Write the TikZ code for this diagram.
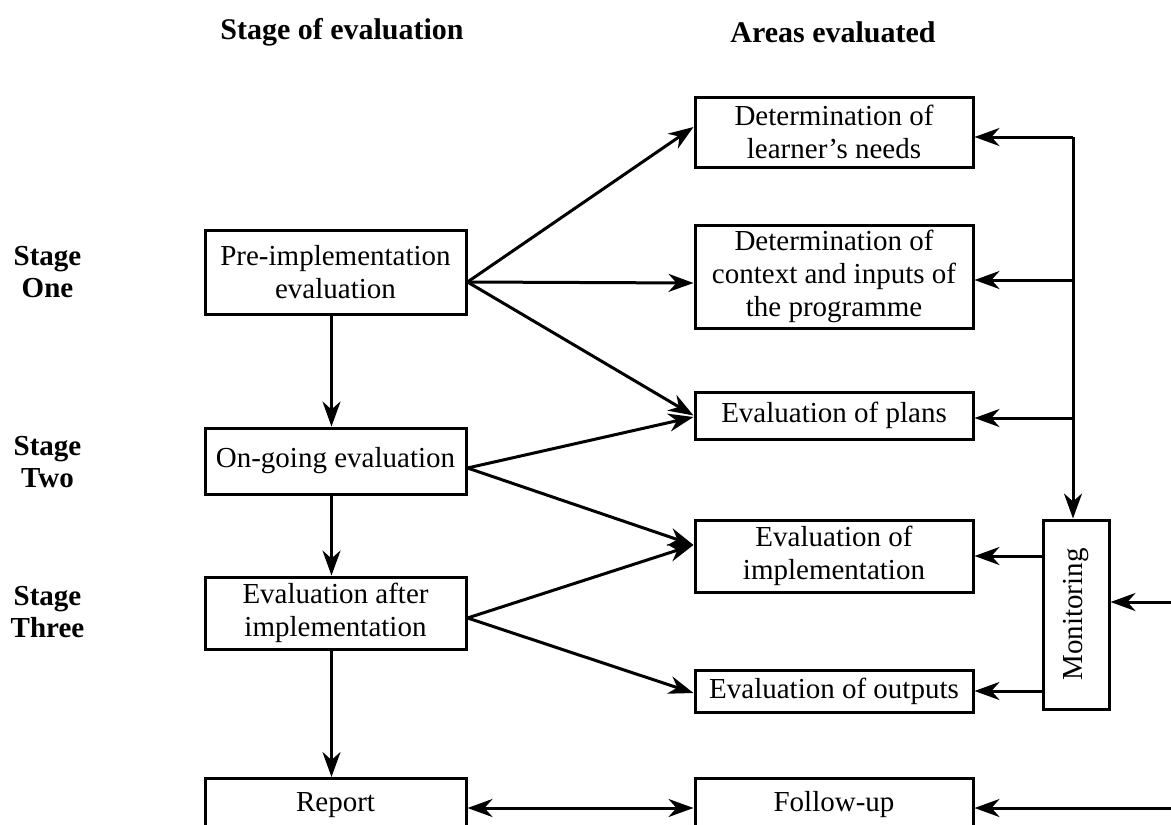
\documentclass[tikz,border=0pt]{standalone}
\usepackage{fontspec}
\usepackage{graphicx}
\setmainfont{Liberation Serif}
\usetikzlibrary{arrows.meta,calc}
\newcommand\bfnt{\fontsize{29}{33}\selectfont}
\begin{document}
\begin{tikzpicture}[x=1pt,y=-1pt,
  box/.style={draw, line width=3pt, align=center, font=\bfnt, inner sep=0pt},
  arr/.style={line width=3pt, -{Stealth[length=25pt,width=18pt,inset=8pt]}},
  arrboth/.style={line width=3pt, {Stealth[length=25pt,width=18pt,inset=8pt]}-{Stealth[length=25pt,width=18pt,inset=8pt]}},
  hdr/.style={font=\bfseries\fontsize{30}{33}\selectfont},
  stg/.style={font=\bfseries\fontsize{29}{32}\selectfont, align=center}]
\useasboundingbox (0,0) rectangle (1171,825);
\clip (0,0) rectangle (1171,825);
% headers
\node[hdr] (h1) at (342,32) {Stage of evaluation};
\node[hdr] (h2) at (833,32) {Areas evaluated};
% stage labels
\node[stg] (s1) at (47.5,272) {Stage\\One};
\node[stg] (s2) at (47.5,462) {Stage\\Two};
\node[stg] (s3) at (47.5,612) {Stage\\Three};
% left column
\node[box, minimum width=261pt, minimum height=84pt] (pre) at (335.5,272) {Pre-implementation\\evaluation};
\node[box, minimum width=261pt, minimum height=66pt] (ongo) at (335.5,461) {On-going evaluation};
\node[box, minimum width=261pt, minimum height=72pt] (after) at (335.5,613) {Evaluation after\\implementation};
\node[box, anchor=north, text width=261pt, text height=20pt, text depth=50pt, inner ysep=13pt] (report) at (335.5,777) {Report};
% right column
\node[box, minimum width=278pt, minimum height=70pt] (needs) at (834,132) {Determination of\\learner’s needs};
\node[box, minimum width=278pt, minimum height=103pt] (ctx) at (834,276.5) {Determination of\\context and inputs of\\the programme};
\node[box, minimum width=278pt, minimum height=47pt] (plans) at (834,415.5) {Evaluation of plans};
\node[box, minimum width=278pt, minimum height=72pt] (evimpl) at (834,556) {Evaluation of\\implementation};
\node[box, minimum width=278pt, minimum height=42pt] (outs) at (834,691) {Evaluation of outputs};
\node[box, anchor=north, text width=278pt, text height=20pt, text depth=50pt, inner ysep=13pt] (fol) at (834,777) {Follow-up};
\node[box, minimum width=66pt, minimum height=189pt] (mon) at (1076,614.5) {\rotatebox{90}{Monitoring}};
% diagonal connectors
\draw[arr] ($(pre.east)+(0,10)$) -- ($(needs.west)+(0,-5)$);
\draw[arr] ($(pre.east)+(0,10)$) -- ($(ctx.west)+(0,6.5)$);
\draw[arr] ($(pre.east)+(0,10)$) -- ($(plans.west)+(0,0)$);
\draw[arr] ($(ongo.east)+(0,7)$) -- ($(plans.west)+(0,1.5)$);
\draw[arr] ($(ongo.east)+(0,7)$) -- ($(evimpl.west)+(0,-11)$);
\draw[arr] ($(after.east)+(0,5)$) -- ($(evimpl.west)+(0,-11)$);
\draw[arr] ($(after.east)+(0,5)$) -- ($(outs.west)+(0,2)$);
% vertical connectors
\draw[arr] ($(pre.south)+(-4,0)$) -- ($(ongo.north)+(-4,0)$);
\draw[arr] ($(ongo.south)+(-4,0)$) -- ($(after.north)+(-4,0)$);
\draw[arr] ($(after.south)+(-4,0)$) -- ($(report.north)+(-4,0)$);
% bottom
\coordinate (ry) at (0,808);
\draw[arrboth] (report.east |- ry) -- (fol.west |- ry);
\coordinate (in2) at (1172,808);
\draw[arr] (in2) -- (fol.east |- in2);
\coordinate (in1) at (1172,602);
\draw[arr] (in1) -- (mon.east |- in1);
% monitoring feedback
\coordinate (top) at (1073,137);
\coordinate (b1) at (1073,280);
\coordinate (b2) at (1073,418);
\draw[arr] (top) -- (needs.east |- top);
\draw[arr] (top) -- (top |- mon.north);
\draw[arr] (b1) -- (ctx.east |- b1);
\draw[arr] (b2) -- (plans.east |- b2);
\draw[arr] (mon.west |- evimpl.east) -- (evimpl.east);
\draw[arr] (mon.west |- outs.east) -- (outs.east);
\end{tikzpicture}
\end{document}
